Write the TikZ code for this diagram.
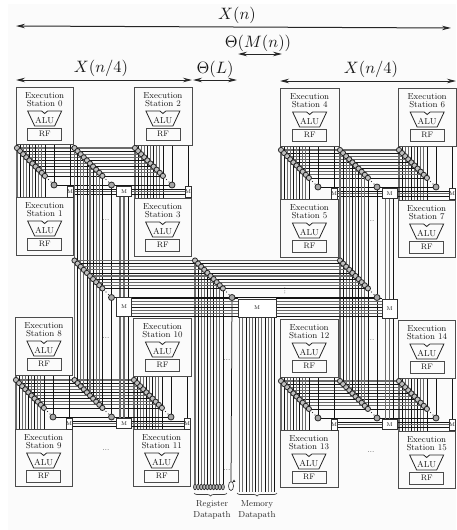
\documentclass[tikz,border=0pt]{standalone}
\usetikzlibrary{arrows.meta,decorations.pathreplacing,shapes.geometric}
\pgfdeclarelayer{wires}
\pgfsetlayers{wires,main}
\definecolor{paper}{HTML}{FBFBFB}
\tikzset{
  stbox/.style={draw=black!70,fill=paper,line width=.8pt,inner sep=0pt,anchor=north west},
  sttext/.style={font=\fontsize{8.7}{7.3}\selectfont,align=center,inner sep=0pt,text=black!90},
  alutext/.style={font=\fontsize{8.7}{9}\selectfont,inner sep=0pt,text=black!90},
  alupath/.style={draw=black!85,line width=.8pt},
  rfbox/.style={draw=black!70,fill=paper,line width=.8pt,minimum width=34pt,minimum height=12pt,inner sep=0pt,font=\fontsize{8}{9}\selectfont,text=black!90},
  tap/.style={circle,draw=black!85,fill=black!25,line width=.8pt,minimum size=5.2pt,inner sep=0pt},
  tapend/.style={circle,draw=black!85,fill=black!35,line width=.8pt,minimum size=6pt,inner sep=0pt},
  tapdot/.style={circle,fill=black!80,minimum size=1.3pt,inner sep=0pt},
  oval/.style={ellipse,draw=black!85,fill=black!30,line width=.6pt,minimum width=3pt,minimum height=5.5pt,inner sep=0pt},
  mux/.style={draw=black!80,fill=white,line width=.8pt,inner sep=0pt,font=\fontsize{5.5}{6}\selectfont,text=black!90},
  wg/.style={draw=black!58,line width=1.1pt},
  wd/.style={draw=black!92,line width=.75pt},
  dim/.style={draw=black!85,line width=1pt,{Stealth[length=9pt,width=4.5pt]}-{Stealth[length=9pt,width=4.5pt]}},
  dimtext/.style={scale=1.65,inner sep=0pt,text=black!90},
  dotsnode/.style={font=\fontsize{7.5}{7.5}\selectfont,inner sep=0pt,text=black},
  labeltext/.style={font=\fontsize{8.7}{10.8}\selectfont,align=center,inner sep=0pt,text=black!85},
  bracel/.style={draw=black!75,line width=.7pt,decorate,decoration={brace,mirror,amplitude=3pt}},
}
\def\WP{0/wg,1/wd,2/wg,3/wg,4/wd,5/wg,6/wd,7/wg,8/wg,9/wd}
\newcommand\Station[5]{%
  \pgfmathsetmacro\stw{#4-#2}\pgfmathsetmacro\sth{#5-#3}%
  \node[stbox,minimum width=\stw pt,minimum height=\sth pt] (st#1) at (#2,#3) {};
  \node[sttext] (st#1t) at ([yshift=-12.5pt]st#1.north) {Execution\\Station #1};
  \draw[alupath] ([shift={(-17pt,-24pt)}]st#1.north) -- ([shift={(-3pt,-24pt)}]st#1.north)
     -- ([shift={(0pt,-26.5pt)}]st#1.north) -- ([shift={(3pt,-24pt)}]st#1.north)
     -- ([shift={(17pt,-24pt)}]st#1.north) -- ([shift={(10pt,-39pt)}]st#1.north)
     -- ([shift={(-10pt,-39pt)}]st#1.north) -- cycle;
  \node[alutext] (st#1a) at ([yshift=-33pt]st#1.north) {ALU};
  \node[rfbox] (st#1r) at ([yshift=-47pt]st#1.north) {RF};
}
% taps: name, x, y
\newcommand\Taps[3]{%
  \foreach \k in {0,...,9}{\coordinate (#1-\k) at ({#2+3.1*\k},{#3+3.1*\k});}
  \foreach \k in {0,...,9}{\node[tap] (#1c\k) at (#1-\k) {};}
  \node[tapend] (#1e) at ({#2+37},{#3+37}) {};
  \node[tapdot] (#1d) at ({#2+31.5},{#3+31.5}) {};
  \node[tapdot] (#1f) at ({#2+34},{#3+34}) {};
}
% cluster: prefix,xA,xB,xC,y
\newcommand\Cluster[5]{%
  \Taps{#1a}{#2}{#5}\Taps{#1b}{#3}{#5}\Taps{#1c}{#4}{#5}
  \node[mux,minimum width=5.5pt,minimum height=11pt] (#1ma) at ({#2+53},{#5+43.5}) {M};
  \node[mux,minimum width=15pt,minimum height=9.5pt] (#1mb) at ({#3+49.5},{#5+43.5}) {M};
  \node[mux,minimum width=5.5pt,minimum height=11pt] (#1mc) at ({#4+53},{#5+43.5}) {M};
}
% cluster wires: prefix, four stations
\newcommand\ClusterWires[5]{%
  \foreach \k/\s in \WP {
    \draw[\s] (#1a-\k |- st#2.south) -- (#1a-\k |- st#3.north);
    \draw[\s] (#1c-\k |- st#4.south) -- (#1c-\k |- st#5.north);
    \draw[\s] (#1a-\k) -- (#1c-\k);
  }
  \draw[wd] (#1ae |- st#2.south) -- (#1ae);
  \draw[wd] (#1ma |- st#2.south) -- (#1ma.north);
  \draw[wd] (#1ce |- st#4.south) -- (#1ce);
  \draw[wd] (#1mc |- st#4.south) -- (#1mc.north);
  \draw[wd] (#1ae) -- (#1be) -- (#1ce);
  \foreach \dy/\s in {-2.5/wd,0/wg,2.5/wd}{
    \draw[\s] ([yshift=\dy pt]#1ma.east) -- ([yshift=\dy pt]#1mb.west);
    \draw[\s] ([yshift=\dy pt]#1mb.east) -- ([yshift=\dy pt]#1mc.west);
  }
}
% column of long wires and the line/mux links between upper and lower clusters
\newcommand\ColumnWires[4]{%
  \foreach \k/\s in \WP { \draw[\s] (#1b-\k) -- (#2b-\k); }
  \draw[wd] (#1be) -- (#3e) -- (#2be);
  \foreach \dx/\s in {-4/wg,0/wg,4/wd}{
    \draw[\s] ([xshift=\dx pt]#1mb.south) -- ([xshift=\dx pt]#4.north);
    \draw[\s] ([xshift=\dx pt]#4.south) -- ([xshift=\dx pt]#2mb.north);
  }
}
\begin{document}
\begin{tikzpicture}[x=1pt,y=-1pt]
\useasboundingbox (0,0) rectangle (456,530);
\begin{pgfonlayer}{wires}
  \fill[paper] (8,4) rectangle (456,530);
\end{pgfonlayer}

% dimension labels
\node[dimtext] (tn) at (237,15) {$X(n)$};
\node[dimtext] (tm) at (258,43) {$\Theta(M(n))$};
\node[dimtext] (tl) at (101,68) {$X(n/4)$};
\node[dimtext] (tq) at (215,69) {$\Theta(L)$};
\node[dimtext] (tr) at (371,69) {$X(n/4)$};
\coordinate (an1) at (16,26); \coordinate (an2) at (451,28);
\coordinate (am1) at (238,54); \coordinate (am2) at (282,54);
\coordinate (al1) at (16,80); \coordinate (al2) at (192,80);
\coordinate (aq1) at (193,80); \coordinate (aq2) at (237,80);
\coordinate (ar1) at (280,81); \coordinate (ar2) at (456,81);
\draw[dim] (an1) -- (an2);
\draw[dim] (am1) -- (am2);
\draw[dim] (al1) -- (al2);
\draw[dim] (aq1) -- (aq2);
\draw[dim] (ar1) -- (ar2);

% stations
\Station{0}{15.5}{87}{73}{144}
\Station{1}{15.5}{197}{73}{255}
\Station{2}{133.5}{87}{191.5}{145}
\Station{3}{133.5}{198}{191}{256}
\Station{4}{280}{88}{338.5}{146}
\Station{5}{280}{199}{338}{257}
\Station{6}{398}{88}{455.5}{146}
\Station{7}{397.5}{200}{455}{257}
\Station{8}{15}{317}{72}{375}
\Station{9}{14.5}{429}{72}{486}
\Station{10}{133}{318}{191}{376}
\Station{11}{132.5}{429}{190}{486}
\Station{12}{280}{319}{337.5}{377}
\Station{13}{279.5}{430}{337.5}{487}
\Station{14}{398}{320}{455}{378}
\Station{15}{397.5}{431}{455}{488}

% first-level clusters
\Cluster{tl}{17}{74.5}{135}{148}
\Cluster{tr}{281}{340}{399}{150}
\Cluster{bl}{16}{74.5}{134}{380}
\Cluster{br}{281}{340}{399}{381}

% second-level taps and muxes
\Taps{sa}{74.5}{260.5}
\Taps{sb}{195}{260.5}
\Taps{sc}{340}{260.5}
\node[mux,minimum width=15pt,minimum height=19pt] (msa) at (124,306.5) {M};
\node[mux,minimum width=38pt,minimum height=18pt] (msb) at (257,308) {M};
\node[mux,minimum width=15pt,minimum height=19pt] (msc) at (389.5,308.5) {M};

% bottom row and labels
\coordinate (rowy) at (0,487);
\foreach \k in {0,...,9}{\node[oval] (rb\k) at (sb-\k |- rowy) {};}
\node[oval,minimum width=5pt,minimum height=9pt,fill=paper] (rbx) at (231,486) {};
\node[fill=black!85,regular polygon,regular polygon sides=3,minimum size=3pt,inner sep=0pt] (rbt) at (234,481) {};
\coordinate (bq1) at (194,493); \coordinate (bq2) at (227,493);
\coordinate (bm1) at (237,493); \coordinate (bm2) at (277,493);
\draw[bracel] (bq1) -- (bq2);
\draw[bracel] (bm1) -- (bm2);
\node[labeltext] (lreg) at (212,509.5) {Register\\Datapath};
\node[labeltext] (lmem) at (257,509.5) {Memory\\Datapath};

% ellipses of dots
\node[dotsnode] (d1) at (106,220) {...};
\node[dotsnode] (d2) at (106,338) {...};
\node[dotsnode] (d3) at (106,450) {...};
\node[dotsnode] (d4) at (227,360) {...};
\node[dotsnode] (d5) at (227,470) {...};
\node[dotsnode] (d6) at (371,221) {...};
\node[dotsnode] (d7) at (371,340) {...};
\node[dotsnode] (d8) at (371,452) {...};
\node[dotsnode,rotate=90] (d9) at (285,291) {...};

\begin{pgfonlayer}{wires}
  \ClusterWires{tl}{0}{1}{2}{3}
  \ClusterWires{tr}{4}{5}{6}{7}
  \ClusterWires{bl}{8}{9}{10}{11}
  \ClusterWires{br}{12}{13}{14}{15}
  \ColumnWires{tl}{bl}{sa}{msa}
  \ColumnWires{tr}{br}{sc}{msc}
  % second-level crossbar
  \foreach \k/\s in \WP {
    \draw[\s] (sa-\k) -- (sc-\k);
    \draw[\s] (sb-\k) -- (rb\k);
  }
  \draw[wd] (sae) -- (sbe) -- (sce);
  \draw[wd] (sbe) -- (rbx);
  \foreach \k/\s in {0/wd,1/wg,2/wg,3/wd,4/wg,5/wg,6/wd}{
    \pgfmathsetmacro\yy{298.5+3*\k}
    \coordinate (bla\k) at (132,\yy); \coordinate (blb\k) at (238,\yy);
    \coordinate (bra\k) at (276,\yy); \coordinate (brb\k) at (382,\yy);
    \draw[\s] (bla\k) -- (blb\k);
    \draw[\s] (bra\k) -- (brb\k);
  }
  % memory datapath
  \foreach \k/\s in {0/wg,1/wg,2/wd,3/wg,4/wg,5/wd,6/wg,7/wg,8/wd,9/wg,10/wg,11/wd}{
    \pgfmathsetmacro\xx{239.5+3.2*\k}
    \coordinate (mt\k) at (\xx,317); \coordinate (mb\k) at (\xx,492);
    \draw[\s] (mt\k) -- (mb\k);
  }
\end{pgfonlayer}
\end{tikzpicture}
\end{document}
